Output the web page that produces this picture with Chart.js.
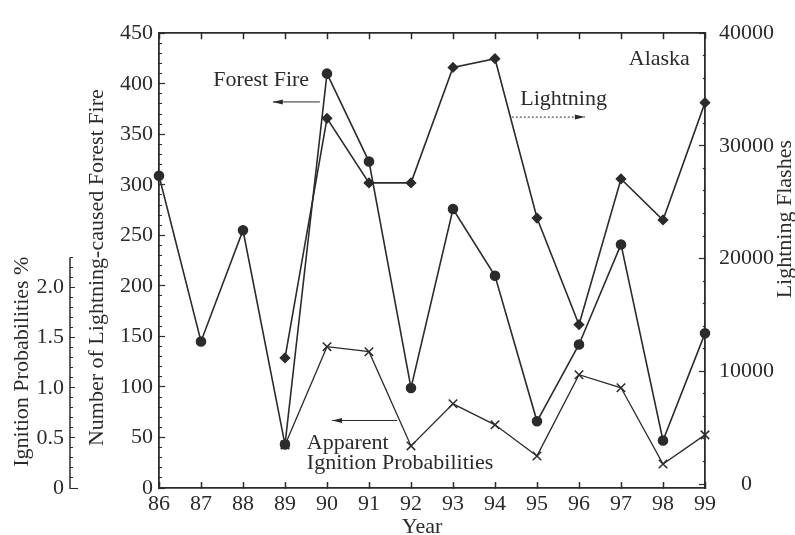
<!DOCTYPE html>
<html><head><meta charset="utf-8">
<script src="https://cdn.jsdelivr.net/npm/chart.js@4.4.1/dist/chart.umd.min.js"></script>
<style>html,body{margin:0;padding:0;background:#fff;}canvas{display:block;}</style>
</head><body>
<canvas id="c" width="795" height="535"></canvas>
<script>
// ---- data ----
const years = ['86','87','88','89','90','91','92','93','94','95','96','97','98','99'];
const forestFires = [309,145,255,43,410,323,99,276,210,66,142,241,47,153];
const lightningFlashes = [null,null,null,11190,32450,26720,26720,36960,37740,23600,14140,27070,23430,33840];
const ignitionProb = [null,null,null,0.43,1.41,1.36,0.42,0.84,0.63,0.32,1.13,1.00,0.24,0.53];
const fireMajorTicks = [0,50,100,150,200,250,300,350,400,450];
const flashMajorTicks = [0,10000,20000,30000,40000];
const probMajorTicks = [0,0.5,1.0,1.5,2.0];
const probTickLabels = ['0','0.5','1.0','1.5','2.0'];

const ink = '#2b2b2b';
const FONT = "'Liberation Serif','Times New Roman',serif";
const tickFont = {family: FONT, size: 22};

function minorDash(isMajor, full, minor) {
  return isMajor ? [] : [0, full - minor, minor, 200];
}

const decor = {
  id: 'decor',
  afterDraw(chart) {
    const {ctx, scales} = chart;
    const x = scales.x, yF = scales.y, yP = scales.yP, yL = scales.y2;
    ctx.save();
    ctx.strokeStyle = ink; ctx.fillStyle = ink; ctx.lineWidth = 1.5;
    // short outer axis line for ignition probabilities
    ctx.beginPath();
    ctx.moveTo(yP.right, yP.getPixelForValue(0) + 0.75);
    ctx.lineTo(yP.right, yP.getPixelForValue(2.3));
    ctx.stroke();
    ctx.font = '22px ' + FONT;
    const vtext = (t, cx, cy) => {
      ctx.save(); ctx.translate(cx, cy); ctx.rotate(-Math.PI / 2);
      ctx.textAlign = 'center'; ctx.textBaseline = 'middle'; ctx.fillText(t, 0, 0); ctx.restore();
    };
    vtext('Ignition Probabilities %', yP.left + 22, yP.getPixelForValue(1.26));
    vtext('Number of Lightning-caused Forest Fire', yF.left + 27, yF.getPixelForValue(218));
    vtext('Lightning Flashes', yL.left + 80, yL.getPixelForValue(23500));
    ctx.textAlign = 'center'; ctx.textBaseline = 'middle';
    ctx.fillText('Year', (x.left + x.right) / 2 - 10, x.top + 39);

    const X = v => x.getPixelForValue(v), Y = v => yF.getPixelForValue(v);
    const txt = (t, xi, yv, align) => { ctx.textAlign = align || 'left'; ctx.textBaseline = 'middle'; ctx.fillText(t, X(xi), Y(yv)); };
    const arrow = (x0, x1, yv, dashed) => {
      const ya = Y(yv), xa = X(x0), xb = X(x1);
      ctx.save(); ctx.lineWidth = 1;
      if (dashed) ctx.setLineDash([2, 2]);
      ctx.beginPath(); ctx.moveTo(xa, ya); ctx.lineTo(xb, ya); ctx.stroke();
      ctx.restore();
      const d = Math.sign(xb - xa);
      ctx.beginPath(); ctx.moveTo(xb, ya); ctx.lineTo(xb - d * 10, ya - 2.5); ctx.lineTo(xb - d * 10, ya + 2.5); ctx.closePath(); ctx.fill();
    };
    txt('Forest Fire', 1.29, 403);
    arrow(3.83, 2.71, 382, false);
    txt('Lightning', 8.6, 385);
    arrow(8.4, 10.14, 367, true);
    txt('Alaska', 12.64, 424, 'right');
    txt('Apparent', 3.52, 44.5);
    txt('Ignition Probabilities', 3.52, 25);
    arrow(5.67, 4.12, 66.8, false);
    ctx.restore();
  }
};

new Chart(document.getElementById('c'), {
  type: 'line',
  data: {
    labels: years,
    datasets: [
      {label: 'Forest Fire', data: forestFires, yAxisID: 'y', borderColor: ink, backgroundColor: ink,
       borderWidth: 1.6, pointStyle: 'circle', pointRadius: 4.5, tension: 0, clip: 10},
      {label: 'Lightning', data: lightningFlashes, yAxisID: 'y2', borderColor: ink, backgroundColor: ink,
       borderWidth: 1.6, pointStyle: 'rectRot', pointRadius: 4.5, tension: 0, clip: 10},
      {label: 'Apparent Ignition Probabilities', data: ignitionProb, yAxisID: 'yP', borderColor: ink, backgroundColor: ink,
       borderWidth: 1.3, pointStyle: 'crossRot', pointRadius: 6, pointBorderWidth: 1.5, tension: 0, clip: 10}
    ]
  },
  options: {
    responsive: false, animation: false,
    layout: {padding: {top: 23, left: 0, right: 0, bottom: 0}},
    plugins: {legend: {display: false}, title: {display: false}, tooltip: {enabled: false}},
    scales: {
      x: {
        type: 'category', position: 'bottom', offset: false,
        grid: {drawOnChartArea: false, drawTicks: true, tickLength: -6, tickColor: ink, tickWidth: 1.5},
        border: {display: true, color: ink, width: 1.8},
        ticks: {font: tickFont, color: ink, padding: 9, autoSkip: false, maxRotation: 0},
        afterFit: s => { s.height = 47; }
      },
      xTop: {
        type: 'category', position: 'top', offset: false, labels: years,
        grid: {drawOnChartArea: false, drawTicks: true, tickLength: -6, tickColor: ink, tickWidth: 1.5},
        border: {display: true, color: ink, width: 1.8},
        ticks: {display: false},
        afterFit: s => { s.height = 0; }
      },
      y: {
        type: 'linear', position: 'left', weight: 0, min: 0, max: 450,
        afterBuildTicks: s => {
          const t = [];
          for (let v = 0; v <= 450; v += 10) t.push({value: v});
          s.ticks = t;
        },
        grid: {drawOnChartArea: false, drawTicks: true, tickLength: -6, tickColor: ink, tickWidth: 1.2,
               tickBorderDash: c => minorDash(fireMajorTicks.includes(c.tick.value), 6, 3)},
        border: {display: true, color: ink, width: 1.8},
        ticks: {font: tickFont, color: ink, padding: 12, autoSkip: false,
                callback: v => fireMajorTicks.includes(v) ? String(v) : ''},
        afterFit: s => { s.width = 89; }
      },
      yP: {
        type: 'linear', position: 'left', weight: 1, min: 0, max: 4.537,
        afterBuildTicks: s => {
          const t = [];
          for (let i = 0; i <= 23; i++) t.push({value: i / 10});
          s.ticks = t;
        },
        grid: {drawOnChartArea: false, drawTicks: true, tickLength: -8, tickColor: ink, tickWidth: 1.1,
               tickBorderDash: c => {
                 const v = c.tick.value;
                 if (v === 0) return [];
                 const major = probMajorTicks.some(m => Math.abs(m - v) < 1e-6);
                 return major ? [0, 3, 5, 200] : [0, 5, 3, 200];
               }},
        border: {display: false},
        ticks: {font: tickFont, color: ink, padding: 14, autoSkip: false,
                callback: v => {
                  const k = probMajorTicks.findIndex(m => Math.abs(m - v) < 1e-6);
                  return k >= 0 ? probTickLabels[k] : '';
                }},
        afterFit: s => { s.width = 70; }
      },
      y2: {
        type: 'linear', position: 'right', min: -350, max: 40000,
        afterBuildTicks: s => {
          const t = [];
          for (let v = 0; v <= 40000; v += 2000) t.push({value: v});
          s.ticks = t;
        },
        grid: {drawOnChartArea: false, drawTicks: true, tickLength: -6, tickColor: ink, tickWidth: 1.2,
               tickBorderDash: c => flashMajorTicks.includes(c.tick.value) ? [] : [3, 200]},
        border: {display: true, color: ink, width: 1.8},
        ticks: {font: tickFont, color: ink, padding: 20, autoSkip: false, crossAlign: 'center',
                callback: v => flashMajorTicks.includes(v) ? String(v) : ''},
        afterFit: s => { s.width = 90; }
      }
    }
  },
  plugins: [decor]
});
</script>
</body></html>
